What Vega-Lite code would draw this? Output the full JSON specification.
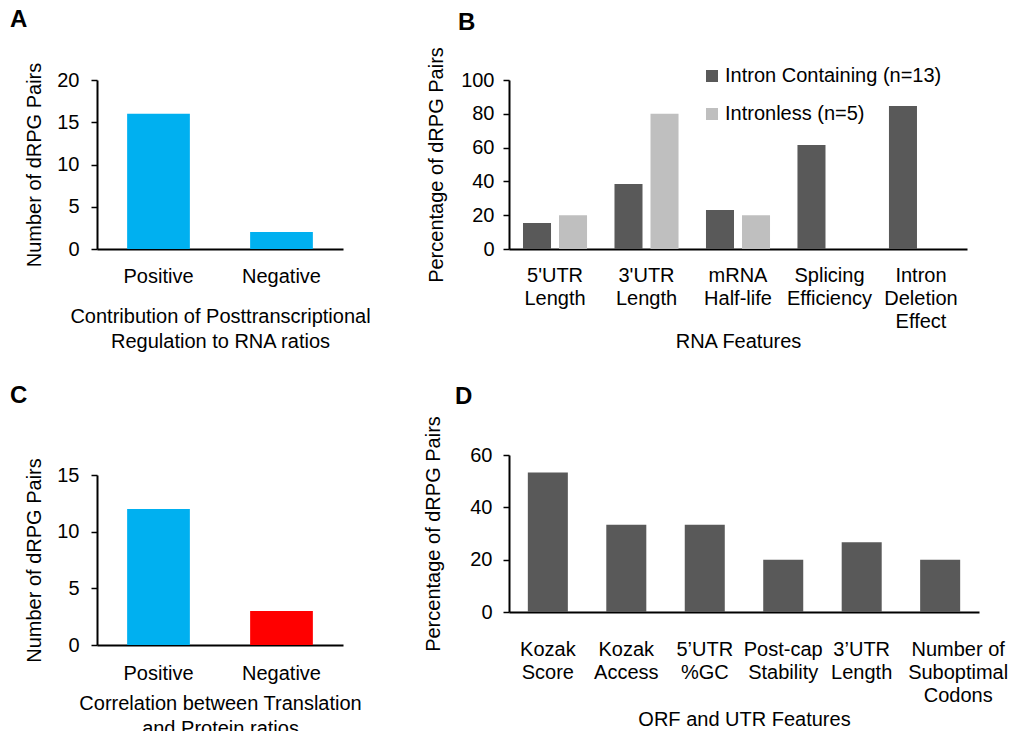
{
  "$schema": "https://vega.github.io/schema/vega-lite/v6.json",
  "background": "white",
  "padding": {"left": 10, "top": 8, "right": 0, "bottom": 0},
  "autosize": {"type": "pad"},
  "config": {
    "font": "Liberation Sans",
    "view": {"stroke": null},
    "title": {"fontSize": 24, "fontWeight": "bold", "color": "black", "anchor": "start", "baseline": "bottom", "frame": "group"},
    "axis": {
      "domainColor": "black", "domainWidth": 2, "tickColor": "black", "tickWidth": 1.5,
      "labelFontSize": 20, "labelColor": "black", "labelFont": "Liberation Sans",
      "titleFontSize": 20, "titleFontWeight": "normal", "titleColor": "black", "titleFont": "Liberation Sans",
      "grid": false, "labelOverlap": false, "labelBound": false
    },
    "axisX": {"ticks": false, "tickSize": 0, "labelAngle": 0, "labelLineHeight": 23.3, "titleLineHeight": 25},
    "axisY": {"tickSize": 6}
  },
  "datasets": {
    "a": [
      {"category": "Positive", "count": 16},
      {"category": "Negative", "count": 2}
    ],
    "c": [
      {"category": "Positive", "count": 12},
      {"category": "Negative", "count": 3}
    ],
    "b": [
      {"feature": "5'UTR|Length", "group": "Intron Containing (n=13)", "percent": 15.4},
      {"feature": "5'UTR|Length", "group": "Intronless (n=5)", "percent": 20},
      {"feature": "3'UTR|Length", "group": "Intron Containing (n=13)", "percent": 38.5},
      {"feature": "3'UTR|Length", "group": "Intronless (n=5)", "percent": 80},
      {"feature": "mRNA|Half-life", "group": "Intron Containing (n=13)", "percent": 23.1},
      {"feature": "mRNA|Half-life", "group": "Intronless (n=5)", "percent": 20},
      {"feature": "Splicing|Efficiency", "group": "Intron Containing (n=13)", "percent": 61.5},
      {"feature": "Intron|Deletion|Effect", "group": "Intron Containing (n=13)", "percent": 84.6}
    ],
    "d": [
      {"feature": "Kozak|Score", "percent": 53.3},
      {"feature": "Kozak|Access", "percent": 33.3},
      {"feature": "5’UTR|%GC", "percent": 33.3},
      {"feature": "Post-cap|Stability", "percent": 20},
      {"feature": "3’UTR|Length", "percent": 26.7},
      {"feature": "Number of|Suboptimal|Codons", "percent": 20}
    ]
  },
  "resolve": {"scale": {"color": "independent"}},
  "spacing": 52,
  "hconcat": [
    {
      "resolve": {"scale": {"color": "independent"}},
      "spacing": 32,
      "vconcat": [
        {
          "title": {"text": "A", "dx": -87, "offset": 30},
          "width": 246,
          "height": 169,
          "data": {"name": "a"},
          "mark": {"type": "bar", "color": "#00B0F0"},
          "encoding": {
            "x": {
              "field": "category", "type": "nominal", "sort": null,
              "scale": {"paddingInner": 0.49, "paddingOuter": 0.245},
              "axis": {"title": ["Contribution of Posttranscriptional", "Regulation to RNA ratios"], "labelPadding": 17, "titlePadding": 20}
            },
            "y": {
              "field": "count", "type": "quantitative",
              "scale": {"domain": [0, 20]},
              "axis": {"values": [0, 5, 10, 15, 20], "title": "Number of dRPG Pairs", "labelPadding": 12, "titlePadding": 12}
            }
          }
        },
        {
          "title": {"text": "C", "dx": -87, "offset": 50},
          "width": 246,
          "height": 170,
          "data": {"name": "c"},
          "mark": {"type": "bar"},
          "encoding": {
            "x": {
              "field": "category", "type": "nominal", "sort": null,
              "scale": {"paddingInner": 0.49, "paddingOuter": 0.245},
              "axis": {"title": ["Correlation between Translation", "and Protein ratios"], "labelPadding": 18, "titlePadding": 10}
            },
            "y": {
              "field": "count", "type": "quantitative",
              "scale": {"domain": [0, 15]},
              "axis": {"values": [0, 5, 10, 15], "title": "Number of dRPG Pairs", "labelPadding": 12, "titlePadding": 12}
            },
            "color": {
              "field": "category", "type": "nominal",
              "scale": {"domain": ["Positive", "Negative"], "range": ["#00B0F0", "#FF0000"]},
              "legend": null
            }
          }
        }
      ]
    },
    {
      "resolve": {"scale": {"color": "independent"}},
      "spacing": 32,
      "vconcat": [
        {
          "title": {"text": "B", "dx": -51, "offset": 12},
          "width": 458,
          "height": 169,
          "data": {"name": "b"},
          "mark": {"type": "bar"},
          "encoding": {
            "x": {
              "field": "feature", "type": "nominal", "sort": null,
              "scale": {"paddingInner": 0.3, "paddingOuter": 0.153},
              "axis": {"labelExpr": "split(datum.label, '|')", "title": "RNA Features", "labelPadding": 16, "titlePadding": 0}
            },
            "xOffset": {
              "field": "group", "type": "nominal",
              "scale": {"domain": ["Intron Containing (n=13)", "Intronless (n=5)"], "paddingInner": 0.222, "paddingOuter": 0}
            },
            "y": {
              "field": "percent", "type": "quantitative",
              "scale": {"domain": [0, 100]},
              "axis": {"values": [0, 20, 40, 60, 80, 100], "title": "Percentage of dRPG Pairs", "labelPadding": 9, "titlePadding": 14}
            },
            "color": {
              "field": "group", "type": "nominal",
              "scale": {"domain": ["Intron Containing (n=13)", "Intronless (n=5)"], "range": ["#595959", "#BFBFBF"]},
              "legend": {
                "orient": "none", "legendX": 193, "legendY": -14, "title": null,
                "symbolType": "square", "symbolSize": 144, "symbolStrokeWidth": 0, "symbolOpacity": 1,
                "labelFontSize": 20, "labelColor": "black", "labelFont": "Liberation Sans", "labelOffset": 3,
                "rowPadding": 18, "padding": 0, "labelLimit": 400
              }
            }
          }
        },
        {
          "title": {"text": "D", "dx": -54, "offset": 7},
          "width": 470,
          "height": 157,
          "data": {"name": "d"},
          "mark": {"type": "bar", "color": "#595959"},
          "encoding": {
            "x": {
              "field": "feature", "type": "nominal", "sort": null,
              "scale": {"paddingInner": 0.49, "paddingOuter": 0.24},
              "axis": {
                "labelExpr": "split(datum.label, '|')", "title": "ORF and UTR Features", "labelPadding": 27, "titlePadding": 4,
                "labelOffset": {"condition": {"test": "datum.value === 'Number of|Suboptimal|Codons'", "value": 18}, "value": 0}
              }
            },
            "y": {
              "field": "percent", "type": "quantitative",
              "scale": {"domain": [0, 60]},
              "axis": {"values": [0, 20, 40, 60], "title": "Percentage of dRPG Pairs", "labelPadding": 11, "titlePadding": 26}
            }
          }
        }
      ]
    }
  ]
}
